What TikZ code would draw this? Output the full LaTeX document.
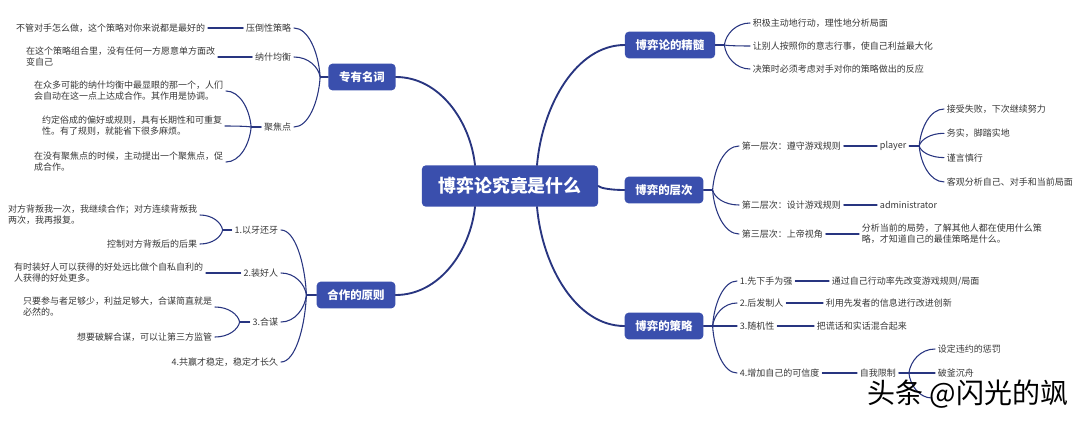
\documentclass[tikz,border=0pt]{standalone}
\usepackage{fontspec}
\setmainfont{Noto Sans CJK SC}
\usetikzlibrary{calc}
\definecolor{mapblue}{RGB}{58,79,173}
\definecolor{mapline}{RGB}{40,53,128}
\definecolor{maptext}{RGB}{55,55,55}
\newcommand{\limb}[3][]{% options, from, to
\draw[#1] let \p1=(#2), \p2=(#3) in (\p1)
  .. controls ({\x1+0.06*(\x2-\x1)},{\y1+0.5*(\y2-\y1)}) and ({\x2-0.55*(\x2-\x1)},\y2) .. (\p2);
}

\begin{document}
\begin{tikzpicture}[x=0.75pt, y=-0.75pt, line cap=round,
  topic/.style={fill=mapblue, rounded corners=3pt, text=white, font=\bfseries\fontsize{8.6}{10}\selectfont, inner xsep=8pt, inner ysep=0pt, minimum height=20pt},
  hubtopic/.style={topic, font=\bfseries\fontsize{13.4}{16}\selectfont, inner xsep=12.5pt, minimum height=31pt},
  leaf/.style={text=maptext, font=\fontsize{6.75}{8.3}\selectfont, inner sep=2pt, align=left},
  trunk/.style={draw=mapline, line width=1.4pt},
  twig/.style={draw=mapline, line width=0.8pt}]
\useasboundingbox (0,0) rectangle (1080,422);

\node [hubtopic] (hub) at (510,186) {博弈论究竟是什么};
\node [topic] (terms) at (362,77) {专有名词};
\node [topic] (coop) at (356,295) {合作的原则};
\node [topic] (core) at (670,45) {博弈论的精髓};
\node [topic] (level) at (664,190) {博弈的层次};
\node [topic] (plan) at (664,326) {博弈的策略};

\limb[trunk]{$(hub.north)+(-35,0)$}{terms.east}
\limb[trunk]{$(hub.south)+(-35,0)$}{coop.east}
\limb[trunk]{$(hub.north)+(27,0)$}{core.west}
\limb[trunk]{hub.east}{level.west}
\limb[trunk]{$(hub.south)+(27,0)$}{plan.west}

% 专有名词
\draw [twig] (terms.west) -- ++(-8,0) coordinate (termsfork);
\node [leaf, anchor=east] (dominant) at (294,28) {压倒性策略};
\node [leaf, anchor=east] (nash) at (294,57) {纳什均衡};
\node [leaf, anchor=east] (focal) at (294,127) {聚焦点};
\foreach \nd in {dominant, nash, focal}
  {\limb[twig]{termsfork}{\nd.east}}
\node [leaf, anchor=east] (dominantnote) at (208,28) {不管对手怎么做，这个策略对你来说都是最好的};
\node [leaf, anchor=east] (nashnote) at (218,57) {在这个策略组合里，没有任何一方愿意单方面改\\变自己};
\draw [twig] (dominantnote.east) -- (dominant.west);
\draw [twig] (nashnote.east) -- (nash.west);
\draw [twig] (focal.west) -- ++(-10,0) coordinate (focalfork);
\node [leaf, anchor=east] (focalA) at (226,91) {在众多可能的纳什均衡中最显眼的那一个，人们\\会自动在这一点上达成合作。其作用是协调。};
\node [leaf, anchor=east] (focalB) at (225,126) {约定俗成的偏好或规则，具有长期性和可重复\\性。有了规则，就能省下很多麻烦。};
\node [leaf, anchor=east] (focalC) at (226,162) {在没有聚焦点的时候，主动提出一个聚焦点，促\\成合作。};
\foreach \nd in {focalA, focalB, focalC}
  {\limb[twig]{focalfork}{\nd.east}}

% 合作的原则
\draw [twig] (coop.west) -- ++(-10,0) coordinate (coopfork);
\node [leaf, anchor=east] (titfortat) at (281,230) {1.以牙还牙};
\node [leaf, anchor=east] (nice) at (281,273) {2.装好人};
\node [leaf, anchor=east] (collude) at (281,322) {3.合谋};
\node [leaf, anchor=east] (winwin) at (281,362) {4.共赢才稳定，稳定才长久};
\foreach \nd in {titfortat, nice, collude, winwin}
  {\limb[twig]{coopfork}{\nd.east}}
\draw [twig] (titfortat.west) -- ++(-9,0) coordinate (titfork);
\node [leaf, anchor=east] (titA) at (200,215) {对方背叛我一次，我继续合作；对方连续背叛我\\两次，我再报复。};
\node [leaf, anchor=east] (titB) at (200,244) {控制对方背叛后的后果};
\limb[twig]{titfork}{titA.east}
\limb[twig]{titfork}{titB.east}
\node [leaf, anchor=east] (nicenote) at (206,273) {有时装好人可以获得的好处远比做个自私自利的\\人获得的好处更多。};
\draw [twig] (nicenote.east) -- (nice.west);
\draw [twig] (collude.west) -- ++(-10,0) coordinate (colfork);
\node [leaf, anchor=east] (colA) at (215,307) {只要参与者足够少，利益足够大，合谋简直就是\\必然的。};
\node [leaf, anchor=east] (colB) at (215,337) {想要破解合谋，可以让第三方监管};
\limb[twig]{colfork}{colA.east}
\limb[twig]{colfork}{colB.east}

% 博弈论的精髓
\draw [twig] (core.east) -- ++(9,0) coordinate (corefork);
\foreach \txt [count=\i] in {积极主动地行动，理性地分析局面, 让别人按照你的意志行事，使自己利益最大化, 决策时必须考虑对手对你的策略做出的反应}
{
  \node [leaf, anchor=west] (core\i) at (750,23*\i) {\txt};
  \limb[twig]{corefork}{core\i.west}
}

% 博弈的层次
\draw [twig] (level.east) -- ++(9,0) coordinate (levelfork);
\node [leaf, anchor=west] (tier1) at (739,146) {第一层次：遵守游戏规则};
\node [leaf, anchor=west] (tier2) at (739,205) {第二层次：设计游戏规则};
\node [leaf, anchor=west] (tier3) at (739,234) {第三层次：上帝视角};
\foreach \nd in {tier1, tier2, tier3}
  {\limb[twig]{levelfork}{\nd.west}}
\node [leaf, anchor=west] (player) at (877,146) {player};
\node [leaf, anchor=west] (admin) at (877,205) {administrator};
\node [leaf, anchor=west] (godnote) at (859,234) {分析当前的局势，了解其他人都在使用什么策\\略，才知道自己的最佳策略是什么。};
\draw [twig] (tier1.east) -- (player.west);
\draw [twig] (tier2.east) -- (admin.west);
\draw [twig] (tier3.east) -- (godnote.west);
\draw [twig] (player.east) -- ++(10,0) coordinate (playerfork);
\foreach \txt [count=\i] in {接受失败，下次继续努力, 务实，脚踏实地, 谨言慎行, 客观分析自己、对手和当前局面}
{
  \node [leaf, anchor=west] (player\i) at (944,{84.7+24.3*\i}) {\txt};
  \limb[twig]{playerfork}{player\i.west}
}

% 博弈的策略
\draw [twig] (plan.east) -- ++(9,0) coordinate (planfork);
\node [leaf, anchor=west] (first) at (737,281) {1.先下手为强};
\node [leaf, anchor=west] (second) at (737,303) {2.后发制人};
\node [leaf, anchor=west] (random) at (737,326) {3.随机性};
\node [leaf, anchor=west] (trust) at (737,373) {4.增加自己的可信度};
\foreach \nd in {first, second, random, trust}
  {\limb[twig]{planfork}{\nd.west}}
\node [leaf, anchor=west] (firstnote) at (829,281) {通过自己行动率先改变游戏规则/局面};
\node [leaf, anchor=west] (secondnote) at (823,303) {利用先发者的信息进行改进创新};
\node [leaf, anchor=west] (randomnote) at (814,326) {把谎话和实话混合起来};
\node [leaf, anchor=west] (selfbind) at (857,373) {自我限制};
\draw [twig] (first.east) -- (firstnote.west);
\draw [twig] (second.east) -- (secondnote.west);
\draw [twig] (random.east) -- (randomnote.west);
\draw [twig] (trust.east) -- (selfbind.west);
\draw [twig] (selfbind.east) -- ++(10,0) coordinate (bindfork);
\node [leaf, anchor=west] (penalty) at (935,349) {设定违约的惩罚};
\node [leaf, anchor=west] (burnboats) at (935,373) {破釜沉舟};
\coordinate (hiddenleaf) at (932,398);
\limb[twig]{bindfork}{penalty.west}
\limb[twig]{bindfork}{burnboats.west}
\limb[twig]{bindfork}{hiddenleaf}

\node [text=black, font=\fontsize{21}{24}\selectfont, inner sep=0pt] (watermark) at (968,394) {头条 @闪光的飒};
\end{tikzpicture}
\end{document}
